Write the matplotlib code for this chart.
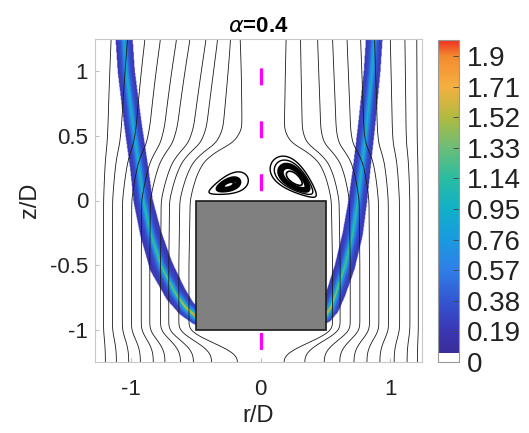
import numpy as np
import matplotlib
matplotlib.use("Agg")
import matplotlib.pyplot as plt
from matplotlib.colors import ListedColormap

plt.rcParams['font.family'] = ['Liberation Sans', 'DejaVu Sans']
plt.rcParams['axes.unicode_minus'] = False
plt.rcParams['lines.scale_dashes'] = False

# axis ranges
r_lim = [-1.28, 1.245]
z_lim = [-1.25, 1.25]
x_ticks = [-1, 0, 1]
y_ticks = [-1, -0.5, 0, 0.5, 1]

# colour bar
c_max = 2.0
c_ticks = [0, 0.19, 0.38, 0.57, 0.76, 0.95, 1.14, 1.33, 1.52, 1.71, 1.9]
white_below = 0.056
cmap_vals = [0.056, 0.19, 0.38, 0.57, 0.76, 0.95, 1.14, 1.33, 1.52, 1.71, 1.9, 2.0]
cmap_cols = ['#3a2d98', '#3a36b4', '#3356d2', '#2f7fe8', '#1a9ae0', '#10b0c8',
             '#2abca0', '#6bbd78', '#b0ba40', '#f5b040', '#f38a30', '#f03020']

# body
body_r = [-0.5, 0.5]
body_z = [-1.0, 0.0]

# U shaped band: centre line, half width, peak value
bandL_r = [-1.06, -1.04, -0.99, -0.94, -0.91, -0.85, -0.77, -0.66, -0.58, -0.50, -0.44]
bandL_z = [1.30, 1.00, 0.60, 0.25, 0.00, -0.26, -0.51, -0.72, -0.83, -0.90, -0.93]
bandL_hw = [0.066, 0.066, 0.068, 0.07, 0.074, 0.082, 0.09, 0.082, 0.07, 0.06, 0.056]
bandL_pk = [1.0, 1.05, 1.1, 1.15, 1.2, 1.3, 1.4, 1.5, 1.8, 2.0, 2.0]
bandR_r = [0.88, 0.86, 0.82, 0.78, 0.75, 0.71, 0.65, 0.58, 0.54, 0.50, 0.44]
bandR_z = [1.30, 1.00, 0.60, 0.25, 0.00, -0.26, -0.51, -0.72, -0.83, -0.89, -0.92]
bandR_hw = [0.064, 0.064, 0.066, 0.068, 0.072, 0.078, 0.078, 0.074, 0.066, 0.058, 0.055]
bandR_pk = [1.0, 1.05, 1.1, 1.15, 1.2, 1.3, 1.4, 1.5, 1.75, 1.95, 1.95]

# streamlines: radius where each one crosses the bottom edge
seedL = [0.18, 0.38, 0.52, 0.62, 0.74, 0.83, 0.93, 1.02, 1.115, 1.2]
seedR = [0.18, 0.34, 0.49, 0.61, 0.72, 0.82, 0.92, 1.03, 1.13, 1.21]
# half width of the dividing streamline (body + recirculation bubble + wake)
wake_z = [-1.25, -1.2, -1.15, -1.1, -1.05, -1.0, -0.5, 0.0, 0.1, 0.2, 0.3, 0.38, 0.45, 0.55, 0.8, 1.25]
wake_w = [0.0, 0.08, 0.2, 0.33, 0.45, 0.53, 0.53, 0.52, 0.50, 0.47, 0.42, 0.32, 0.17, 0.10, 0.12, 0.15]
# pull of the outer flow towards the axis downstream
squeeze_z = [-1.25, 0.0, 0.6, 1.25]
squeezeL = [1.0, 1.0, 0.78, 0.62]
squeezeR = [1.0, 1.0, 0.92, 0.85]

# recirculation eddies
eddy_r = [-0.25, 0.26]
eddy_z = [0.12, 0.17]
eddy_a = [0.16, 0.215]
eddy_b = [0.07, 0.10]
eddy_ang = [21, 140]
eddy_levels = [[0.08, 0.2, 0.32, 1.0], [0.12, 0.28, 0.42, 0.7, 1.0]]
eddy_lw = [[2.0, 2.6, 2.6, 1.0], [1.2, 2.6, 2.6, 1.0, 1.0]]

dr = 0.004
r = np.arange(r_lim[0], r_lim[1] + dr / 2, dr)
z = np.arange(z_lim[0], z_lim[1] + dr / 2, dr)
RR, ZZ = np.meshgrid(r, z)


def smooth(zk, vk, sig=0.03):
    v = np.interp(z, zk, vk)
    n = int(4 * sig / dr)
    k = np.exp(-0.5 * (np.arange(-n, n + 1) * dr / sig) ** 2)
    k /= k.sum()
    return np.convolve(np.pad(v, n, mode='edge'), k, mode='valid')


def band(pr, pz, hw, pk, base=0.17, lam=0.02):
    pr, pz = np.asarray(pr), np.asarray(pz)
    seg = np.hypot(np.diff(pr), np.diff(pz))
    s_k = np.concatenate([[0], np.cumsum(seg)])
    best_d = np.full(RR.shape, np.inf)
    best_s = np.zeros(RR.shape)
    for i in range(len(seg)):
        a, b = pr[i + 1] - pr[i], pz[i + 1] - pz[i]
        t = np.clip(((RR - pr[i]) * a + (ZZ - pz[i]) * b) / seg[i] ** 2, 0, 1)
        d = np.hypot(RR - pr[i] - t * a, ZZ - pz[i] - t * b)
        m = d < best_d
        best_d[m] = d[m]
        best_s[m] = s_k[i] + t[m] * seg[i]
    h = np.interp(best_s, s_k, hw)
    p = np.interp(best_s, s_k, pk)
    val = base + (p - base) * np.exp(-best_d / lam)
    val[best_d > h] = 0
    return val


field = np.maximum(band(bandL_r, bandL_z, bandL_hw, bandL_pk),
                   band(bandR_r, bandR_z, bandR_hw, bandR_pk))

v = np.linspace(0, c_max, 512)
cols = np.array([matplotlib.colors.to_rgb(c) for c in cmap_cols])
rgb = np.column_stack([np.interp(v, cmap_vals, cols[:, i]) for i in range(3)])
rgb[v < white_below] = 1.0
cmap = ListedColormap(rgb)

w = smooth(wake_z, wake_w)[:, None]


def stream(side, pw):
    edge = abs(r_lim[0]) if side < 0 else r_lim[1]
    ra = np.abs(RR)
    u = np.clip((ra ** 2 - w ** 2) / (edge ** 2 - w ** 2), 0, None)
    psi = edge ** 2 * u ** smooth(squeeze_z, pw)[:, None]
    psi[np.sign(RR) != side] = np.nan
    return psi


fig = plt.figure(figsize=(5.29, 4.33), dpi=100)
ax = fig.add_axes([95 / 529, 71 / 433, 327 / 529, 323 / 433])

im = ax.imshow(field, extent=[r[0], r[-1], z[0], z[-1]], origin='lower',
               cmap=cmap, vmin=0, vmax=c_max, interpolation='bilinear',
               aspect='auto', zorder=1)

for side, seeds, pw in [(-1, seedL, squeezeL), (1, seedR, squeezeR)]:
    psi = stream(side, pw)
    row = psi[0]
    ok = ~np.isnan(row)
    lev = np.interp(side * np.array(seeds), r[ok], row[ok])
    ax.contour(RR, ZZ, psi, levels=np.sort(lev), colors='#1a1a1a',
               linewidths=0.6, zorder=2)

for i in range(2):
    th = np.deg2rad(eddy_ang[i])
    x, y = RR - eddy_r[i], ZZ - eddy_z[i]
    uu = x * np.cos(th) + y * np.sin(th)
    vv = -x * np.sin(th) + y * np.cos(th)
    wid = eddy_b[i] * np.maximum(1 + 0.45 * uu / eddy_a[i], 0.2)
    F = (uu / eddy_a[i]) ** 2 + (vv / wid) ** 2
    ax.contour(RR, ZZ, F, levels=eddy_levels[i], colors='k',
               linewidths=eddy_lw[i], zorder=2)

ax.plot([0, 0], [z_lim[1], z_lim[0]], color=(1, 0, 1), lw=2.3,
        linestyle=(17.3, (12.2, 25.9)), zorder=2.5)

ax.fill([body_r[0], body_r[1], body_r[1], body_r[0]],
        [body_z[0], body_z[0], body_z[1], body_z[1]],
        facecolor='#808080', edgecolor='#1a1a1a', lw=1.2, zorder=3)

ax.set_xlim(r_lim)
ax.set_ylim(z_lim)
ax.set_xticks(x_ticks)
ax.set_yticks(y_ticks)
ax.set_yticklabels(['-1', '-0.5', '0', '0.5', '1'])
ax.tick_params(direction='in', length=3, color='#c0c0c0', labelsize=16,
               labelcolor='#222222')
ax.tick_params(axis='x', pad=12)
ax.tick_params(axis='y', pad=5)
for s in ax.spines.values():
    s.set_color('#c8c8c8')
ax.set_xlabel('r/D', fontsize=17, color='#222222', labelpad=4)
ax.set_ylabel('z/D', fontsize=17, color='#222222', labelpad=6)
ax.set_title(r'$\alpha$=0.4', fontsize=16, fontweight='bold', pad=5)

cax = fig.add_axes([438 / 529, 71 / 433, 21 / 529, 322 / 433])
cb = fig.colorbar(im, cax=cax, ticks=c_ticks)
cb.ax.set_yticklabels([f'{t:g}' for t in c_ticks])
cax.tick_params(direction='in', length=4, width=0.6, color='#444444',
                labelsize=20, pad=6, labelcolor='#222222')
cb.outline.set_edgecolor('#999999')

fig.savefig('out.png', dpi=100)
